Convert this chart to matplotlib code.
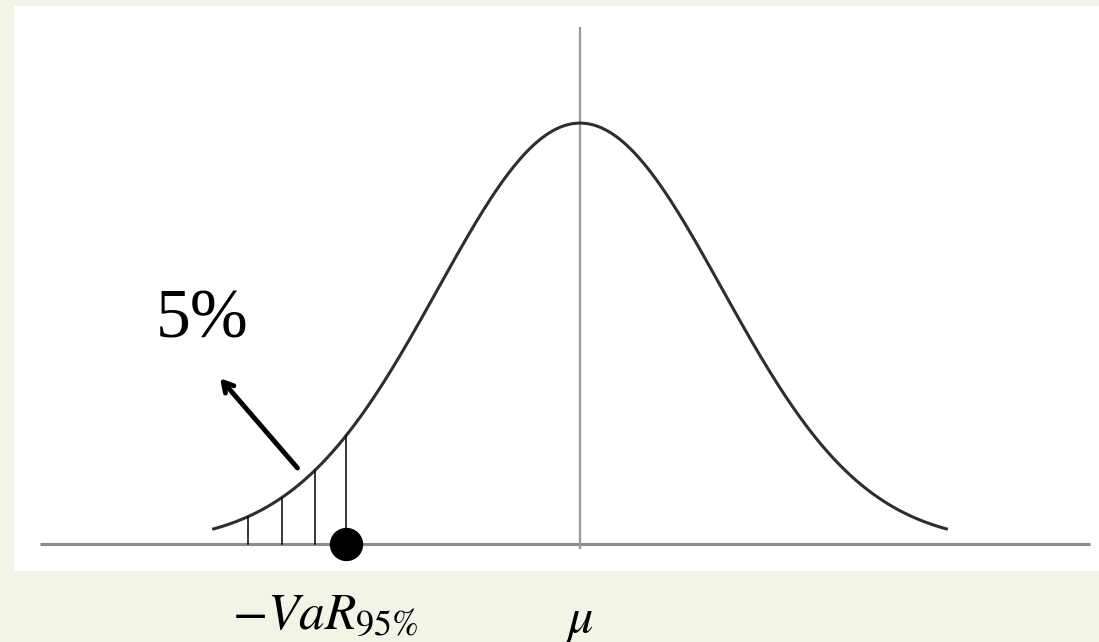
import numpy as np
import matplotlib.pyplot as plt
from matplotlib.patches import Rectangle

# distribution parameters (standard normal, mu at 0)
mu = 0.0
sigma = 1.0
curve_span = 2.58          # curve drawn from mu - span to mu + span
var_95 = -1.645            # -VaR at 95%
hatch_x = [-2.34, -2.10, -1.87, -1.645]

tail_label = "5%"
var_label = r"$-VaR_{95\%}$"
mu_label = r"$\mu$"

def pdf(x):
    return np.exp(-0.5 * ((x - mu) / sigma) ** 2) / (sigma * np.sqrt(2 * np.pi))

plt.rcParams['mathtext.fontset'] = 'stix'

fig = plt.figure(figsize=(10.99, 6.42), dpi=100, facecolor='#f2f4e8')

ax = fig.add_axes([0, 0, 1, 1])
ax.set_facecolor('none')
ax.set_xlim(-4.085, 3.655)
ax.set_ylim(-0.0929, 0.5156)
ax.axis('off')

# white slide panel behind the sketch
ax.add_patch(Rectangle((14 / 1099, 71 / 642), 1085 / 1099, 565 / 642,
                       transform=fig.transFigure, facecolor='white',
                       edgecolor='none', zorder=0))

# axes of the sketch
ax.plot([-3.80, 3.59], [0, 0], color='#8a8a8a', lw=2.2, solid_capstyle='butt')
ax.plot([mu, mu], [-0.004, 0.489], color='#9a9a9a', lw=1.6)

# density curve
x = np.linspace(mu - curve_span, mu + curve_span, 400)
ax.plot(x, pdf(x), color='#2e2e2e', lw=2.2)

# hatching of the 5% tail
for hx in hatch_x:
    ax.plot([hx, hx], [0, pdf(hx)], color='black', lw=1.1)

# VaR point
ax.plot([var_95], [0], 'o', color='black', markersize=23, zorder=5)

# arrow and tail label
ax.annotate('', xy=(-2.535, 0.157), xytext=(-1.99, 0.072),
            arrowprops=dict(arrowstyle='->,head_length=0.7,head_width=0.4',
                            lw=3.5, color='black', shrinkA=0, shrinkB=0))
ax.text(-2.66, 0.196, tail_label, fontsize=50, family='Liberation Serif',
        ha='center', va='baseline')

# axis labels under the panel
ax.text(var_95 - 0.15, -0.0815, var_label, fontsize=37, ha='center', va='baseline')
ax.text(mu, -0.0835, mu_label, fontsize=36, ha='center', va='baseline')

fig.savefig('out.png', dpi=100, facecolor=fig.get_facecolor())
